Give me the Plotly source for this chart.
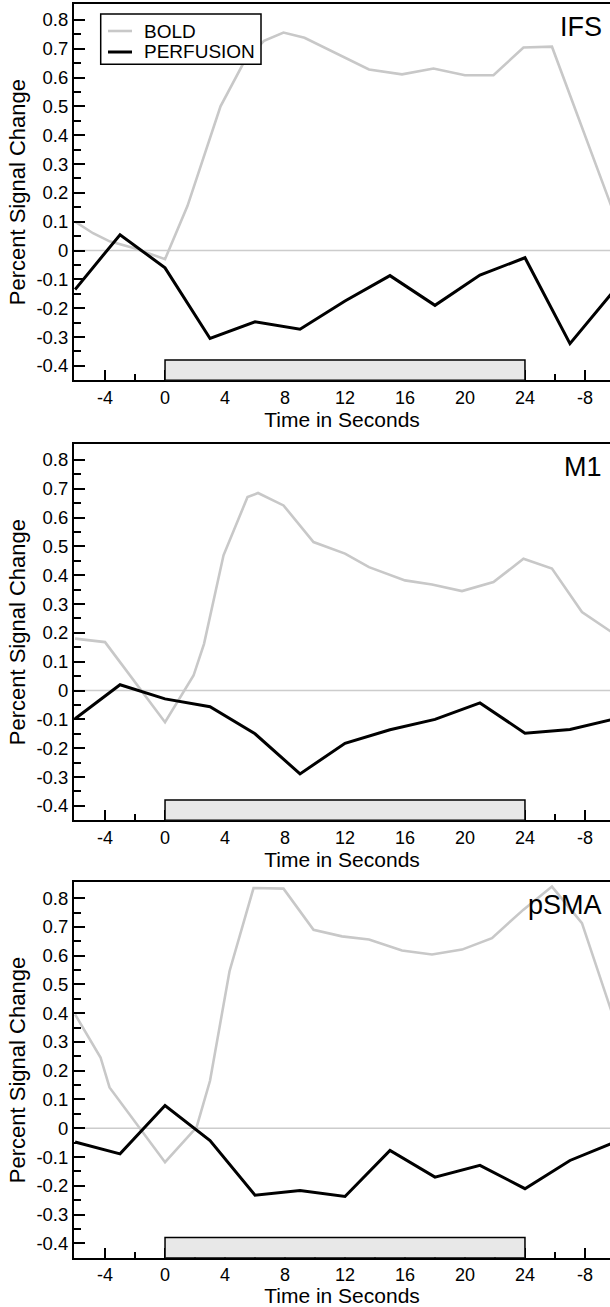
import plotly.graph_objects as go
from plotly.subplots import make_subplots

# ---------------- data ----------------
regions = ["IFS", "M1", "pSMA"]
series_names = ["BOLD", "PERFUSION"]

perf_t = [-6, -3, 0, 3, 6, 9, 12, 15, 18, 21, 24, 27, 30]
ifs_perf = [-0.135, 0.055, -0.06, -0.305, -0.247, -0.273, -0.175, -0.087, -0.19, -0.085, -0.025, -0.323, -0.135]
m1_perf = [-0.098, 0.02, -0.029, -0.056, -0.15, -0.289, -0.183, -0.136, -0.10, -0.043, -0.148, -0.135, -0.098]
psma_perf = [-0.048, -0.089, 0.079, -0.043, -0.233, -0.216, -0.237, -0.077, -0.17, -0.129, -0.21, -0.112, -0.048]

ifs_bold_t = [-6, -4.8, -3.7, -2.1, 0, 1.5, 3.7, 5.3, 6.6, 7.9, 9.3, 13.6, 15.8, 17.9, 20, 21.9, 23.9, 25.8, 30]
ifs_bold = [0.10, 0.06, 0.032, 0.009, -0.03, 0.155, 0.50, 0.657, 0.727, 0.756, 0.738, 0.628, 0.611, 0.631, 0.608, 0.608, 0.704, 0.707, 0.12]

m1_bold_t = [-6, -4, 0, 1.9, 2.6, 3.9, 5.5, 6.2, 7.9, 9.9, 12, 13.6, 16, 17.8, 19.8, 21.9, 23.9, 25.8, 27.8, 30]
m1_bold = [0.18, 0.168, -0.11, 0.052, 0.162, 0.469, 0.671, 0.685, 0.642, 0.515, 0.475, 0.428, 0.382, 0.368, 0.345, 0.376, 0.457, 0.423, 0.272, 0.195]

psma_bold_t = [-6, -4.3, -3.7, -1.7, 0, 2.1, 3, 4.3, 5.9, 7.9, 9.9, 11.8, 13.6, 15.8, 17.8, 19.8, 21.8, 23.9, 25.8, 27.8, 30]
psma_bold = [0.396, 0.246, 0.142, 0.003, -0.118, 0.003, 0.165, 0.546, 0.835, 0.833, 0.69, 0.667, 0.656, 0.618, 0.604, 0.621, 0.661, 0.76, 0.84, 0.713, 0.37]

bold_t = [ifs_bold_t, m1_bold_t, psma_bold_t]
bold_vals = [ifs_bold, m1_bold, psma_bold]
perf_vals = [ifs_perf, m1_perf, psma_perf]

stim_block = [0, 24]
stim_top = -0.38

x_tickvals = [-4, 0, 4, 8, 12, 16, 20, 24, 28]
x_ticktext = ["-4", "0", "4", "8", "12", "16", "20", "24", "-8"]
x_minor = [-2, 2, 6, 10, 14, 18, 22, 26]
y_tickvals = [-0.4, -0.3, -0.2, -0.1, 0, 0.1, 0.2, 0.3, 0.4, 0.5, 0.6, 0.7, 0.8]
y_ticktext = ["-0.4", "-0.3", "-0.2", "-0.1", "0", "0.1", "0.2", "0.3", "0.4", "0.5", "0.6", "0.7", "0.8"]
y_minor = [-0.35, -0.25, -0.15, -0.05, 0.05, 0.15, 0.25, 0.35, 0.45, 0.55, 0.65, 0.75]

x_range = [-6.07, 29.67]
y_range = [-0.45, 0.855]

# ---------------- figure ----------------
W, H = 610, 1307
FONT = "Liberation Sans, Arial, Helvetica, sans-serif"
BOLD_COLOR = "#c8c8c8"
PERF_COLOR = "black"

fig = make_subplots(rows=3, cols=1)

# panel pixel boxes (top, bottom)
panel_px = [(4, 380.3), (444, 820.3), (882.3, 1257.7)]

for i in range(3):
    r = i + 1
    fig.add_trace(go.Scatter(x=x_range, y=[0, 0], mode="lines",
                             line=dict(color="#cccccc", width=1.6),
                             showlegend=False, hoverinfo="skip"), row=r, col=1)
    fig.add_trace(go.Scatter(x=bold_t[i], y=bold_vals[i], mode="lines", name=series_names[0],
                             line=dict(color=BOLD_COLOR, width=2.6),
                             showlegend=False), row=r, col=1)
    fig.add_trace(go.Scatter(x=perf_t, y=perf_vals[i], mode="lines", name=series_names[1],
                             line=dict(color=PERF_COLOR, width=3),
                             showlegend=False), row=r, col=1)

    top, bot = panel_px[i]
    xa = "xaxis" if i == 0 else f"xaxis{r}"
    ya = "yaxis" if i == 0 else f"yaxis{r}"
    fig.layout[xa].update(
        domain=[74 / W, 1], range=x_range,
        tickmode="array", tickvals=x_tickvals, ticktext=x_ticktext,
        ticks="inside", ticklen=10, tickwidth=1.5, tickcolor="black",
        minor=dict(tickvals=x_minor, ticks="inside", ticklen=6, tickwidth=1.5, tickcolor="black"),
        showline=True, linecolor="black", linewidth=2, mirror=True,
        showgrid=False, zeroline=False,
        tickfont=dict(family=FONT, size=18, color="black"),
        title=dict(text="Time in Seconds", font=dict(family=FONT, size=21, color="black"), standoff=2),
    )
    fig.layout[ya].update(
        domain=[1 - bot / H, 1 - top / H], range=y_range,
        tickmode="array", tickvals=y_tickvals, ticktext=y_ticktext,
        ticks="inside", ticklen=11, tickwidth=1.5, tickcolor="black",
        minor=dict(tickvals=y_minor, ticks="inside", ticklen=7, tickwidth=1.5, tickcolor="black"),
        showline=True, linecolor="black", linewidth=2, mirror=False,
        showgrid=False, zeroline=False,
        tickfont=dict(family=FONT, size=18.5, color="black"),
        title=dict(text="Percent Signal Change", font=dict(family=FONT, size=22, color="black"), standoff=5),
    )
    xref = "x" if i == 0 else f"x{r}"
    yref = "y" if i == 0 else f"y{r}"
    fig.add_shape(type="rect", xref=xref, yref=yref,
                  x0=stim_block[0], x1=stim_block[1], y0=y_range[0], y1=stim_top,
                  fillcolor="#e8e8e8", line=dict(color="black", width=1.5), layer="above")
    fig.add_annotation(text=regions[i], xref=f"{xref} domain", yref=f"{yref} domain",
                       x=1, y=1, xanchor="right", yanchor="top", xshift=-6, yshift=-6,
                       showarrow=False, font=dict(family=FONT, size=27, color="black"))

# ---- legend box (panel 1) drawn in paper pixels ----
def px(x):
    return x / W

def py(y):
    return 1 - y / H

fig.add_shape(type="rect", xref="paper", yref="paper",
              x0=px(100.7), x1=px(261), y0=py(64.3), y1=py(14),
              fillcolor="white", line=dict(color="black", width=1.5), layer="above")
for k, (ypix, col, lw) in enumerate([(31, BOLD_COLOR, 2.6), (52, PERF_COLOR, 3)]):
    fig.add_shape(type="line", xref="paper", yref="paper",
                  x0=px(108), x1=px(132), y0=py(ypix), y1=py(ypix),
                  line=dict(color=col, width=lw), layer="above")
    fig.add_annotation(text=series_names[k], xref="paper", yref="paper",
                       x=px(142), y=py(ypix), xanchor="left", yanchor="middle",
                       showarrow=False, font=dict(family=FONT, size=19, color="black"))

fig.update_layout(
    width=W, height=H,
    margin=dict(l=0, r=0, t=0, b=0),
    paper_bgcolor="white", plot_bgcolor="white",
    showlegend=False,
)

fig.write_html("out.html", config={"displayModeBar": False},
               post_script="document.body.style.margin='0px';document.body.style.overflow='hidden';")
